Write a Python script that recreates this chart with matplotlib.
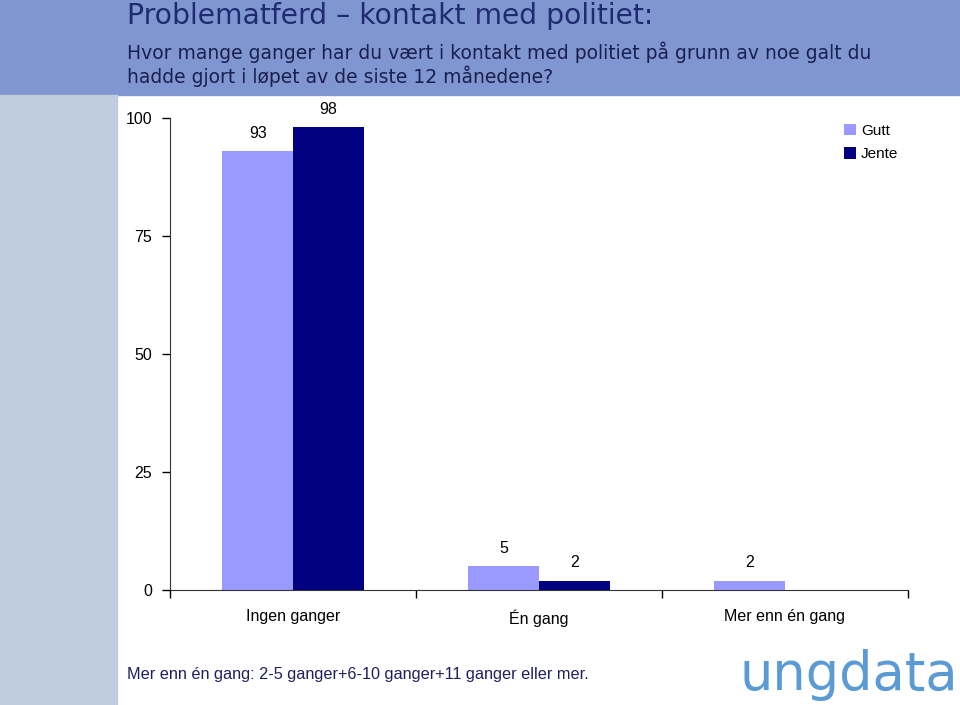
import matplotlib.pyplot as plt
import numpy as np
from matplotlib.patches import Rectangle

categories = ['Ingen ganger', 'Én gang', 'Mer enn én gang']
gutt = [93, 5, 2]
jente = [98, 2, 0]
yticks = [0, 25, 50, 75, 100]

col_gutt = '#9999FF'
col_jente = '#000080'

fig = plt.figure(figsize=(9.6, 7.05), dpi=100)

# header band and left stripe
fig.add_artist(Rectangle((0, 1 - 95 / 705), 1, 95 / 705, transform=fig.transFigure,
                         color='#7F96D1', zorder=0))
fig.add_artist(Rectangle((0, 0), 117 / 960, 1 - 95 / 705, transform=fig.transFigure,
                         color='#C0CCE0', zorder=0))

fig.text(127 / 960, 1 - 16 / 705, 'Problematferd – kontakt med politiet:', fontsize=20.3,
         color='#1F2A70', family='DejaVu Sans', va='center')
fig.text(127 / 960, 1 - 52 / 705,
         'Hvor mange ganger har du vært i kontakt med politiet på grunn av noe galt du',
         fontsize=13.5, color='#1A1F4F', family='DejaVu Sans', va='center')
fig.text(127 / 960, 1 - 76 / 705, 'hadde gjort i løpet av de siste 12 månedene?',
         fontsize=13.5, color='#1A1F4F', family='DejaVu Sans', va='center')

ax = fig.add_axes([170 / 960, 115 / 705, 738 / 960, 472 / 705])
x = np.arange(len(categories))
w = 0.2866
b1 = ax.bar(x - w / 2, gutt, w, color=col_gutt, label='Gutt')
b2 = ax.bar(x + w / 2, jente, w, color=col_jente, label='Jente')

for bars, vals in ((b1, gutt), (b2, jente)):
    for r, v in zip(bars, vals):
        if v > 0:
            ax.text(r.get_x() + r.get_width() / 2, v + 2.2, str(v), ha='center',
                    va='bottom', fontsize=11.5, family='Liberation Sans')

ax.set_xlim(-0.5, len(categories) - 0.5)
ax.set_ylim(0, 100)
ax.set_yticks(yticks)
ax.set_yticklabels([str(t) for t in yticks], family='Liberation Sans', fontsize=11.5)
ax.set_xticks(x)
ax.set_xticklabels(categories, family='Liberation Sans', fontsize=11.5)
ax.tick_params(axis='x', length=0, pad=14)
ax.tick_params(axis='y', length=6, direction='out', width=1, pad=7)
ax.set_xticks(np.arange(len(categories) + 1) - 0.5, minor=True)
ax.tick_params(axis='x', which='minor', length=6, direction='out', width=1)
for s in ['top', 'right']:
    ax.spines[s].set_visible(False)
ax.spines['left'].set_color('#333333')
ax.spines['bottom'].set_color('#333333')

leg = ax.legend(loc='upper left', bbox_to_anchor=(0.895, 1.017), frameon=False,
                prop={'family': 'Liberation Sans', 'size': 11}, handlelength=0.8,
                handleheight=0.8, handletextpad=0.3, labelspacing=0.6)

fig.text(127 / 960, 31 / 705, 'Mer enn én gang: 2-5 ganger+6-10 ganger+11 ganger eller mer.',
         fontsize=11.7, color='#1F1F5F', family='Liberation Sans', va='center')
fig.text(958 / 960, 30 / 705, 'ungdata', fontsize=38, color='#5B9BD5',
         family='DejaVu Sans', ha='right', va='center')

fig.savefig('out.png', dpi=100)
